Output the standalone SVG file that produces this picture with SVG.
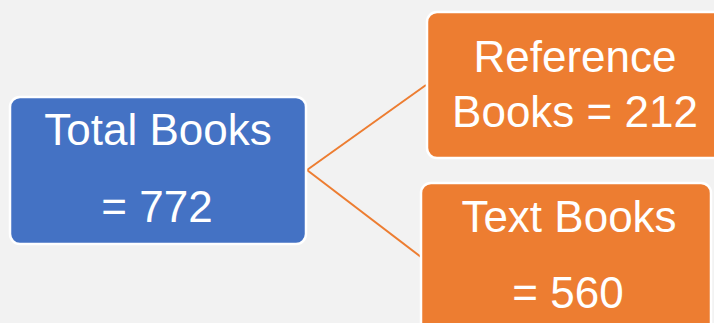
<svg xmlns="http://www.w3.org/2000/svg" width="714" height="323" viewBox="0 0 714 323">
<style>
.box{stroke:#FFFFFF;stroke-width:2.5}
.blue{fill:#4472C4}
.orange{fill:#ED7D31}
.lbl{font-family:"Liberation Sans",Arial,sans-serif;font-size:44px;fill:#FFFFFF;text-anchor:middle}
.conn{stroke:#ED7D31;stroke-width:2;fill:none}
</style>
<rect x="0" y="0" width="714" height="323" fill="#F2F2F2"/>
<g id="connectors">
<line class="conn" x1="307" y1="170" x2="426" y2="85"/>
<line class="conn" x1="307" y1="170" x2="421" y2="257"/>
</g>
<g id="total">
<rect class="box blue" x="10" y="97" width="296" height="147" rx="10"/>
<text class="lbl" x="158" y="145">Total Books</text>
<text class="lbl" x="157" y="222">= 772</text>
</g>
<g id="reference">
<rect class="box orange" x="427" y="12" width="300" height="146" rx="10"/>
<text class="lbl" x="575" y="72">Reference</text>
<text class="lbl" x="575" y="127">Books = 212</text>
</g>
<g id="text">
<rect class="box orange" x="421" y="183" width="290" height="160" rx="10"/>
<text class="lbl" x="569" y="232">Text Books</text>
<text class="lbl" x="568" y="308">= 560</text>
</g>
</svg>
